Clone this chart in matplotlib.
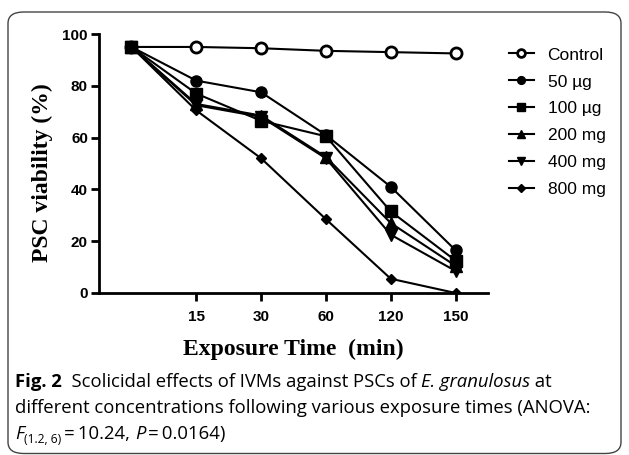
import matplotlib.pyplot as plt
from matplotlib.patches import FancyBboxPatch

# data ---------------------------------------------------------------
times = ["", "15", "30", "60", "120", "150"]
control = [95, 95, 94.5, 93.5, 93, 92.5]
ug50 = [95, 82, 77.5, 61, 41, 16.5]
ug100 = [95, 77, 66.5, 60.5, 31.5, 12.5]
mg200 = [95, 73, 68.5, 52.5, 27, 10.5]
mg400 = [95, 72.5, 68, 52, 22.5, 8.5]
mg800 = [95, 70.5, 52, 28.5, 5.5, 0]

series = [
    ("Control", control, "o", True),
    ("50 \u00b5g", ug50, "o", False),
    ("100 \u00b5g", ug100, "s", False),
    ("200 mg", mg200, "^", False),
    ("400 mg", mg400, "v", False),
    ("800 mg", mg800, "D", False),
]

SANS = ["Liberation Sans", "DejaVu Sans"]
SERIF = ["Liberation Serif", "DejaVu Serif"]
CAP = ["Open Sans", "DejaVu Sans"]

W, H = 629, 455
fig = plt.figure(figsize=(W / 100, H / 100), dpi=100)

# rounded frame round the figure
frame = FancyBboxPatch((8 / W, 1.5 / H), 613 / W, (H - 12 - 1.5) / H,
                       boxstyle="round,pad=0,rounding_size=0.025",
                       transform=fig.transFigure, fill=False,
                       edgecolor="#444444", lw=1.0)
fig.patches.append(frame)

ax = fig.add_axes([99 / W, 1 - 293 / H, (488 - 99) / W, (293 - 34) / H])
x = list(range(len(times)))
for name, vals, mk, hollow in series:
    ms = 5.5 if mk == "D" else 8
    ax.plot(x, vals, color="black", lw=1.5, marker=mk, ms=ms,
            mfc="white" if hollow else "black", mec="black",
            mew=2 if hollow else 1, label=name)

ax.set_xlim(-0.5, 5.5)
ax.set_ylim(0, 100)
ax.set_xticks(x[1:])
ax.set_xticklabels(times[1:])
ax.set_yticks([0, 20, 40, 60, 80, 100])
for s in ["top", "right"]:
    ax.spines[s].set_visible(False)
for s in ["left", "bottom"]:
    ax.spines[s].set_linewidth(2)
ax.tick_params(direction="out", length=6, width=2)
ax.tick_params(axis="x", pad=6)
ax.tick_params(axis="y", pad=2)
for lab in ax.get_xticklabels() + ax.get_yticklabels():
    lab.set_family(SANS)
    lab.set_fontweight("bold")
    lab.set_fontsize(11)

ax.set_ylabel("PSC viability (%)", family=SERIF, fontweight="bold", fontsize=17)
ax.set_xlabel("Exposure Time  (min)", family=SERIF, fontweight="bold", fontsize=17)
ax.yaxis.set_label_coords(-0.118, 0.463)
ax.xaxis.set_label_coords(0.5, -0.178)

leg = ax.legend(loc="upper left", bbox_to_anchor=(1.035, 0.975), frameon=False,
                prop={"family": SANS, "size": 12.5}, handlelength=1.45,
                handletextpad=0.8, labelspacing=0.68, markerscale=0.7,
                borderaxespad=0)

# caption ------------------------------------------------------------
renderer = fig.canvas.get_renderer()


def run(pieces, x0, y_base, size=13.3):
    xx = x0
    for txt, style in pieces:
        kw = dict(family=CAP, fontsize=size, va="baseline", transform=None)
        if style == "b":
            kw["fontweight"] = "bold"
        elif style == "i":
            kw["fontstyle"] = "italic"
        elif style == "sub":
            kw["fontsize"] = size * 0.65
        t = fig.text(xx, H - y_base - (4 if style == "sub" else 0), txt, **kw)
        xx = t.get_window_extent(renderer).x1


run([("Fig. 2", "b"), ("  Scolicidal effects of IVMs against PSCs of ", ""),
     ("E. granulosus", "i"), (" at", "")], 15, 387)
run([("different concentrations following various exposure times (ANOVA:", "")],
    15, 413)
run([("F", "i"), ("(1.2, 6)", "sub"), ("\u2009=\u200910.24, ", ""), ("P", "i"),
     ("\u2009=\u20090.0164)", "")], 15, 439)

fig.savefig("out.png", dpi=100)
